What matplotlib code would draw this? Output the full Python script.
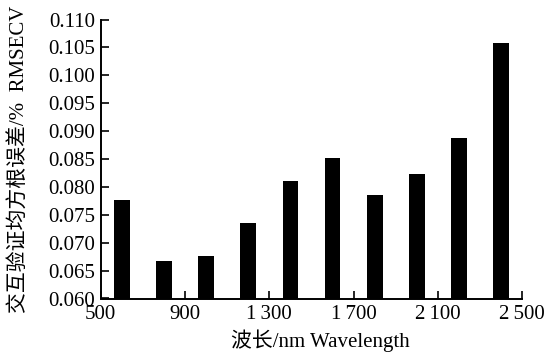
import numpy as np
import matplotlib
matplotlib.use("Agg")
import matplotlib.pyplot as plt
import matplotlib.ticker as ticker

# wavelength band centres (nm) and cross-validation RMSE
wavelengths = [600, 800, 1000, 1200, 1400, 1600, 1800, 2000, 2200, 2400]
rmsecv = [0.0777, 0.0668, 0.0677, 0.0735, 0.0810, 0.0851, 0.0786, 0.0824, 0.0888, 0.1057]
x_labels = [500, 900, 1300, 1700, 2100, 2500]

plt.rcParams["font.family"] = ["Liberation Serif", "Noto Sans CJK SC"]
plt.rcParams["font.size"] = 15


def thousands(x, _):
    s = f"{int(round(x))}"
    if len(s) > 3:
        s = s[:-3] + "\u2009" + s[-3:]
    return s


fig = plt.figure(figsize=(5.44, 3.55), dpi=100)
ax = fig.add_axes([100.7 / 544, 1 - 298.5 / 355, (522.3 - 100.7) / 544, (298.5 - 19.5) / 355])

ax.bar(wavelengths, rmsecv, width=75, color="black", zorder=2)

ax.set_xlim(500, 2500)
ax.set_ylim(0.060, 0.110)

ax.xaxis.set_major_locator(ticker.FixedLocator(x_labels))
ax.xaxis.set_minor_locator(ticker.MultipleLocator(200))
ax.xaxis.set_major_formatter(ticker.FuncFormatter(thousands))
ax.yaxis.set_major_locator(ticker.MultipleLocator(0.005))
ax.yaxis.set_major_formatter(ticker.FormatStrFormatter("%.3f"))

ax.tick_params(axis="both", which="both", direction="in", width=1.2, length=6,
               labelsize=15, pad=4)
ax.tick_params(axis="x", pad=5)

for side in ("top", "right"):
    ax.spines[side].set_visible(False)
for side in ("left", "bottom"):
    ax.spines[side].set_linewidth(1.4)

ax.set_xlabel("波长/nm Wavelength", fontsize=15)
ax.xaxis.set_label_coords(0.52, -0.11)
ax.set_ylabel("交互验证均方根误差/%  RMSECV", fontsize=15, labelpad=14)

fig.savefig("out.png", dpi=100)
